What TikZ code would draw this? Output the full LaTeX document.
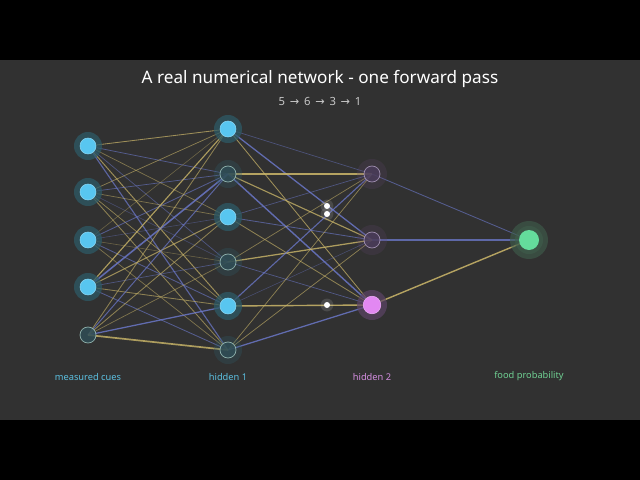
\documentclass[tikz,border=0pt]{standalone}
\usepackage{fontspec}
\setmainfont{Noto Sans}
\newfontfamily\arrowfont{DejaVu Sans}
\definecolor{bgdark}{HTML}{313131}
\definecolor{wgoldc}{HTML}{CDB86A}
\definecolor{wbluec}{HTML}{6E7BD0}
\definecolor{cuecyan}{HTML}{58C6F0}
\definecolor{cueglow}{HTML}{2E5A66}
\definecolor{dimfill}{HTML}{2F4D55}
\definecolor{dimline}{HTML}{A6CCC4}
\definecolor{hidfill}{HTML}{4A3C5A}
\definecolor{hidline}{HTML}{B4A2C6}
\definecolor{hidpink}{HTML}{E288F2}
\definecolor{hidglow}{HTML}{5C4466}
\definecolor{outgreen}{HTML}{64DC9C}
\definecolor{outglow}{HTML}{3F5E4C}
\definecolor{labcyan}{HTML}{5BBFE0}
\definecolor{labpink}{HTML}{D48EE0}
\definecolor{labgreen}{HTML}{6FCF92}
\tikzset{
  wgold/.style={draw=wgoldc},
  wblue/.style={draw=wbluec},
  glowcue/.style={circle,fill=cueglow,fill opacity=0.75,inner sep=0pt,minimum size=0.7cm},
  cueon/.style={circle,fill=cuecyan,draw=cuecyan!70!white,line width=0.4pt,inner sep=0pt,minimum size=0.4cm},
  cueoff/.style={circle,fill=dimfill,fill opacity=0.85,draw=dimline,draw opacity=0.8,line width=0.5pt,inner sep=0pt,minimum size=0.4cm},
  hidoff/.style={circle,fill=hidfill,fill opacity=0.85,draw=hidline,draw opacity=0.8,line width=0.5pt,inner sep=0pt,minimum size=0.4cm},
  glowhid/.style={circle,fill=hidglow,fill opacity=0.7,inner sep=0pt,minimum size=0.75cm},
  hidon/.style={circle,fill=hidpink,draw=hidpink!70!white,line width=0.4pt,inner sep=0pt,minimum size=0.44cm},
  glowout/.style={circle,fill=outglow,fill opacity=0.6,inner sep=0pt,minimum size=#1},
  outon/.style={circle,fill=outgreen,inner sep=0pt,minimum size=0.5cm},
  pulse/.style={circle,fill=white,inner sep=0pt,minimum size=0.15cm},
  pulseglow/.style={circle,fill=white,fill opacity=0.12,inner sep=0pt,minimum size=0.32cm},
  layerlab/.style={font=\fontsize{6.6}{8}\selectfont}
}
\begin{document}
\begin{tikzpicture}[x=0.025cm,y=-0.025cm]
  % frame
  \fill[black] (0,0) rectangle (640,480);
  \fill[bgdark] (0,60) rectangle (640,420);

  % unit positions
  \foreach \n/\y in {1/146,2/192,3/240,4/287,5/335}
    \coordinate (i\n) at (88,\y);
  \foreach \n/\y in {a/129,b/174,c/217,d/262,e/306,f/350}
    \coordinate (h\n) at (228,\y);
  \foreach \n/\y in {a/174,b/240,c/305}
    \coordinate (k\n) at (372,\y);
  \coordinate (o) at (529,240);

  % weights, cues -> hidden 1
  \foreach \s/\t/\c/\w/\o in {
      i1/ha/wgold/0.6/0.7, i1/hb/wblue/0.5/0.6, i1/hc/wgold/0.5/0.5,
      i1/hd/wblue/0.5/0.5, i1/he/wgold/0.7/0.7, i1/hf/wblue/0.8/0.7,
      i2/ha/wgold/0.5/0.6, i2/hb/wblue/0.5/0.6, i2/hc/wgold/0.5/0.5,
      i2/hd/wblue/0.4/0.4, i2/he/wgold/0.5/0.6, i2/hf/wgold/0.6/0.6,
      i3/ha/wgold/0.4/0.4, i3/hb/wblue/0.6/0.6, i3/hc/wblue/0.4/0.4,
      i3/hd/wgold/0.4/0.4, i3/he/wblue/0.6/0.6, i3/hf/wgold/0.5/0.5,
      i4/ha/wgold/0.8/0.8, i4/hb/wblue/1.1/0.8, i4/hc/wgold/0.7/0.7,
      i4/hd/wblue/0.5/0.5, i4/he/wgold/0.6/0.6, i4/hf/wblue/0.6/0.6,
      i5/ha/wgold/0.6/0.6, i5/hb/wblue/0.7/0.7, i5/hc/wgold/0.6/0.6,
      i5/hd/wgold/0.5/0.5, i5/he/wblue/0.9/0.8, i5/hf/wgold/1.2/0.8}
    \draw[\c, line width=\w pt, draw opacity=\o] (\s) -- (\t);

  % weights, hidden 1 -> hidden 2
  \foreach \s/\t/\c/\w/\o in {
      ha/ka/wblue/0.5/0.45, ha/kb/wblue/0.9/0.8, ha/kc/wgold/0.6/0.7,
      hb/ka/wgold/1.3/0.85, hb/kb/wgold/0.8/0.75, hb/kc/wblue/1.0/0.8,
      hc/ka/wblue/0.5/0.5, hc/kb/wblue/0.6/0.6, hc/kc/wgold/0.6/0.6,
      hd/ka/wgold/0.5/0.55, hd/kb/wgold/0.9/0.8, hd/kc/wblue/0.5/0.55,
      he/ka/wblue/0.8/0.75, he/kb/wblue/0.4/0.4, he/kc/wgold/1.0/0.85,
      hf/ka/wgold/0.5/0.6, hf/kb/wgold/0.5/0.6, hf/kc/wblue/0.9/0.8}
    \draw[\c, line width=\w pt, draw opacity=\o] (\s) -- (\t);

  % weights, hidden 2 -> output
  \draw[wblue, line width=0.6pt, draw opacity=0.6] (ka) -- (o);
  \draw[wblue, line width=1.2pt, draw opacity=0.75] (kb) -- (o);
  \draw[wgold, line width=1.0pt, draw opacity=0.85] (kc) -- (o);

  % cues
  \foreach \n in {1,2,3,4}{
    \node[glowcue] (g\n) at (i\n) {};
    \node[cueon] (u\n) at (i\n) {};
  }
  \node[cueoff] (u5) at (i5) {};

  % hidden 1
  \foreach \n in {a,c,e}{
    \node[glowcue] (gh\n) at (h\n) {};
    \node[cueon] (v\n) at (h\n) {};
  }
  \foreach \n in {b,d,f}{
    \node[glowcue, fill opacity=0.3] (gh\n) at (h\n) {};
    \node[cueoff] (v\n) at (h\n) {};
  }

  % hidden 2
  \node[glowhid, fill opacity=0.25] (gka) at (ka) {};
  \node[hidoff] (wa) at (ka) {};
  \node[glowhid, fill opacity=0.25] (gkb) at (kb) {};
  \node[hidoff] (wb) at (kb) {};
  \node[glowhid] (gkc) at (kc) {};
  \node[hidon] (wc) at (kc) {};

  % output
  \node[glowout=0.95cm] (go1) at (o) {};
  \node[glowout=0.7cm] (go2) at (o) {};
  \node[outon] (out) at (o) {};

  % pulses in flight
  \foreach \n/\y in {1/206,2/214,3/305}{
    \node[pulseglow] (pg\n) at (327,\y) {};
    \node[pulse] (p\n) at (327,\y) {};
  }

  % text
  \node[text=white, font=\fontsize{12.2}{15}\selectfont] (title) at (320,79)
    {A real numerical network - one forward pass};
  \node[text=white!78!black, font=\fontsize{8}{10}\selectfont] (sub) at (320,101)
    {5\, {\arrowfont→}\, 6\, {\arrowfont→}\, 3\, {\arrowfont→}\, 1};
  \node[layerlab, text=labcyan] (lab1) at (88,377) {measured cues};
  \node[layerlab, text=labcyan] (lab2) at (228,377) {hidden 1};
  \node[layerlab, text=labpink] (lab3) at (372,377) {hidden 2};
  \node[layerlab, text=labgreen] (lab4) at (529,376) {food probability};
\end{tikzpicture}
\end{document}
